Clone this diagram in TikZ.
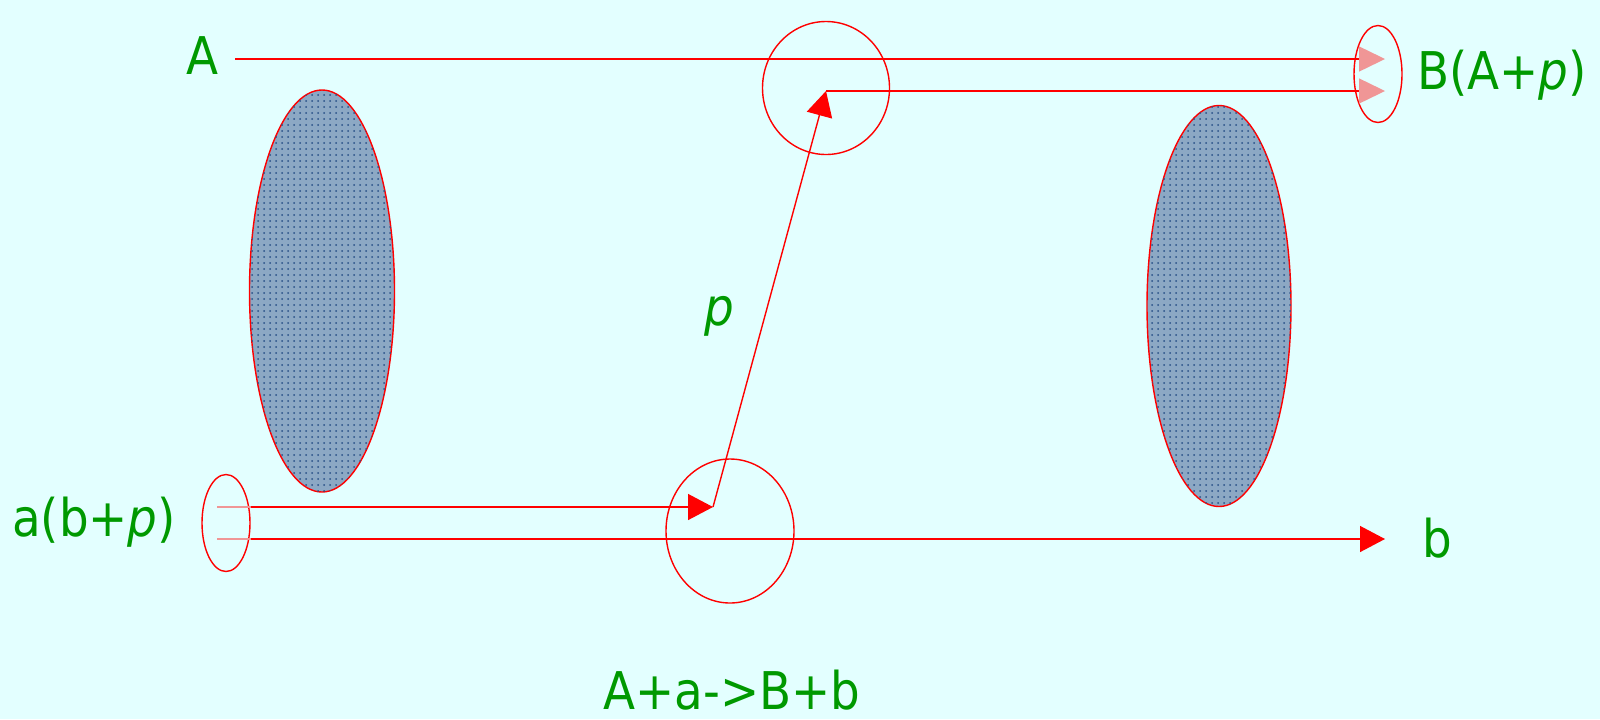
\documentclass[tikz,border=0pt]{standalone}
\usepackage{fontspec}
\setmainfont{DejaVu Sans Condensed}
\usepackage{tikz}
\usetikzlibrary{arrows.meta, shapes.geometric, patterns}

\definecolor{bgcyan}{RGB}{227,255,255}
\definecolor{lblgreen}{RGB}{0,153,0}
\definecolor{tippink}{RGB}{240,150,150}
\definecolor{blobfill}{RGB}{140,168,196}
\definecolor{blobdot}{RGB}{40,80,135}

\begin{document}
\begin{tikzpicture}[
  x=0.5pt, y=-0.5pt,
  lbl/.style={text=lblgreen, font=\fontsize{26}{30}\selectfont, inner sep=0pt},
  ring/.style={draw=red, line width=0.7pt, ellipse, inner sep=0pt},
  blob/.style={ring, fill=blobfill, postaction={pattern=dots, pattern color=blobdot}},
  arr/.style={draw=red, line width=0.7pt, -{Triangle[length=12.5pt, width=13pt]}},
  parr/.style={draw=red, line width=0.7pt, -{Triangle[length=13pt, width=12.5pt, color=tippink]}},
  faint/.style={draw=tippink, line width=0.7pt}]
  \useasboundingbox (0,0) rectangle (1600,719);
  \fill[bgcyan] (0,0) rectangle (1600,719);

  % blobs and collision rings
  \node[blob, minimum width=72.5pt, minimum height=201pt] (leftblob) at (322,291) {};
  \node[blob, minimum width=72pt, minimum height=200.5pt] (rightblob) at (1219,306) {};
  \node[ring, minimum width=63.5pt, minimum height=66.5pt] (topring) at (826,88) {};
  \node[ring, minimum width=64pt, minimum height=72pt] (botring) at (730,531) {};
  \node[ring, minimum width=24pt, minimum height=48.5pt] (outring) at (1378,74) {};
  \node[ring, minimum width=24pt, minimum height=48.5pt] (inring) at (226,523) {};

  % labels
  \node[lbl] (labA) at (202,56) {A};
  \node[lbl] (labB) at (1502,75) {B(A+\textit{p})};
  \node[lbl] (laba) at (94,522) {a(b+\textit{p})};
  \node[lbl] (labb) at (1437,538) {b};
  \node[lbl] (labp) at (719,316) {\textit{p}};
  \node[lbl] (labrx) at (732,690) {A+a->B+b};

  % end points
  \coordinate (aStart) at (235,59);
  \coordinate (aEnd) at (1385,59);
  \coordinate (vertex) at (826,91);
  \coordinate (bEnd) at (1385,91);
  \coordinate (pIn) at (217,507);
  \coordinate (pOut) at (inring.east |- pIn);
  \coordinate (hit) at (713,507);
  \coordinate (bIn) at (217,539);
  \coordinate (bMid) at (inring.east |- bIn);
  \coordinate (bOut) at (1385,539);

  \draw[parr] (aStart) -- (aEnd);
  \draw[parr] (vertex) -- (bEnd);
  \draw[faint] (pIn) -- (pOut);
  \draw[arr] (pOut) -- (hit);
  \draw[faint] (bIn) -- (bMid);
  \draw[arr] (bMid) -- (bOut);
  \draw[arr] (hit) -- (vertex);
\end{tikzpicture}
\end{document}
